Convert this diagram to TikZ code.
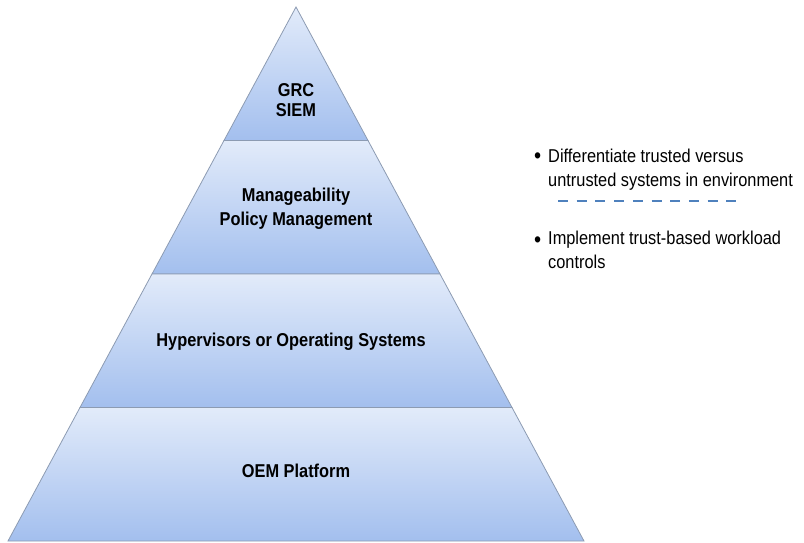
\documentclass[tikz,border=0pt]{standalone}
\usepackage{fontspec}
\setmainfont[FakeStretch=0.88]{Liberation Sans}
\usetikzlibrary{positioning,calc}

\definecolor{layertop}{HTML}{E2EBFA}
\definecolor{layerbot}{HTML}{A3BFEE}
\definecolor{edgegray}{HTML}{8C9BB2}
\definecolor{dashblue}{HTML}{4F81BD}

\begin{document}
\begin{tikzpicture}[
    x=1pt, y=-1pt,
    layer/.style={draw=edgegray, line width=0.8pt, top color=layertop, bottom color=layerbot},
    tier/.style={font=\bfseries\fontsize{18.6}{22}\selectfont, align=center, inner sep=0pt, anchor=base},
    bullet/.style={font=\fontsize{23}{24}\selectfont, inner sep=0pt, anchor=base west},
    note/.style={font=\fontsize{18.6}{24.4}\selectfont, align=left, inner sep=0pt, anchor=base west}
]

\useasboundingbox (0,0) rectangle (804,543);

% Pyramid outline
\coordinate (apex) at (296,7);
\coordinate (bl) at (8,541);
\coordinate (br) at (584,541);

% Layer boundaries
\coordinate (l1) at ($(apex)!0.25!(bl)$);
\coordinate (r1) at ($(apex)!0.25!(br)$);
\coordinate (l2) at ($(apex)!0.5!(bl)$);
\coordinate (r2) at ($(apex)!0.5!(br)$);
\coordinate (l3) at ($(apex)!0.75!(bl)$);
\coordinate (r3) at ($(apex)!0.75!(br)$);

% Layers (top to bottom)
\path[layer] (apex) -- (r1) -- (l1) -- cycle;
\path[layer] (l1) -- (r1) -- (r2) -- (l2) -- cycle;
\path[layer] (l2) -- (r2) -- (r3) -- (l3) -- cycle;
\path[layer] (l3) -- (r3) -- (br) -- (bl) -- cycle;

% Layer labels (anchored on the last line's baseline)
\node[tier, font=\bfseries\fontsize{18.6}{20.5}\selectfont] (grc) at (296,117) {GRC\\SIEM};
\node[tier, font=\bfseries\fontsize{18.6}{23.3}\selectfont] (mgmt) at (296,225) {Manageability\\Policy Management};
\node[tier] (hyp) at (291,346) {Hypervisors or Operating Systems};
\node[tier] (oem) at (296,477) {OEM Platform};

% Notes on the right
\node[bullet] (b1) at (534,163) {\textbullet};
\node[note] (diff) at (548,186.7) {Differentiate trusted versus\\untrusted systems in environment};
\coordinate (dashA) at (558,201);
\coordinate (dashB) at (737,201);
\draw[dashblue, line width=2pt, dash pattern=on 10pt off 8.7pt] (dashA) -- (dashB);
\node[bullet] (b2) at (534,247.5) {\textbullet};
\node[note] (impl) at (548,268.5) {Implement trust-based workload\\controls};

\end{tikzpicture}
\end{document}
